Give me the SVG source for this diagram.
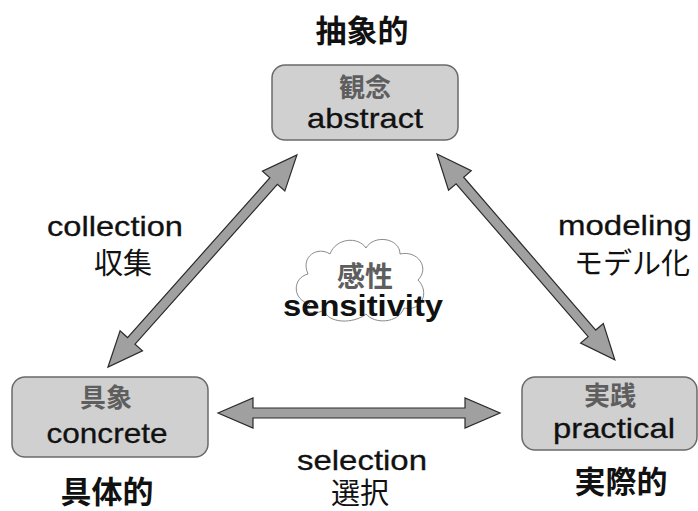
<svg xmlns="http://www.w3.org/2000/svg" width="698" height="511" viewBox="0 0 698 511">
<defs>
<style>
.box{fill:#d0d0d0;stroke:#6a6a6a;stroke-width:1.5}
.arr{fill:#a0a0a0;stroke:#2a2a2a;stroke-width:1.2;stroke-linejoin:miter}
.en{font-family:"Liberation Sans",Arial,sans-serif;font-size:28px;fill:#111;stroke:#111;stroke-width:0.3;text-anchor:middle}
.jp{font-family:"Noto Sans CJK JP","Noto Sans CJK SC",sans-serif;font-size:29px;fill:#111;text-anchor:middle}
.kb{font-family:"Noto Sans CJK JP","Noto Sans CJK SC",sans-serif;font-size:26px;fill:#5e5e5e;text-anchor:middle;font-weight:bold}
.big{font-family:"Noto Sans CJK JP","Noto Sans CJK SC",sans-serif;font-size:31px;font-weight:bold;fill:#111;text-anchor:middle}
</style>
</defs>
<rect width="698" height="511" fill="#fff"/>
<g id="connectors">
<polygon class="arr" transform="translate(218,413)" points="0,0 35,-15 35,-5 247,-5 247,-15 282,0 247,15 247,5 35,5 35,15"/>
<polygon class="arr" transform="translate(108,367) rotate(-48.3)" points="0,0 35,-15 35,-5 249,-5 249,-15 284,0 249,15 249,5 35,5 35,15"/>
<polygon class="arr" transform="translate(437,154) rotate(49.17)" points="0,0 35,-15 35,-5 237,-5 237,-15 272,0 237,15 237,5 35,5 35,15"/>
</g>
<g id="title-abstract"><text class="big" x="362" y="42">抽象的</text></g>
<g id="node-abstract">
<rect class="box" x="272" y="65" width="186" height="75" rx="13"/>
<text class="kb" x="365" y="97">観念</text>
<text class="en" x="365" y="128" textLength="116" lengthAdjust="spacingAndGlyphs">abstract</text>
</g>
<g id="node-concrete">
<rect class="box" x="12" y="377" width="196" height="80" rx="13"/>
<text class="kb" x="106" y="407">具象</text>
<text class="en" x="107" y="443" textLength="121" lengthAdjust="spacingAndGlyphs">concrete</text>
</g>
<g id="node-practical">
<rect class="box" x="522" y="377" width="175" height="73" rx="13"/>
<text class="kb" x="610" y="405">実践</text>
<text class="en" x="614" y="438" textLength="122" lengthAdjust="spacingAndGlyphs">practical</text>
</g>
<g id="node-sensitivity">
<path d="M310,304 C292,300 292,278 308,274 C300,256 318,246 330,254 C336,238 358,236 366,248 C374,234 400,238 400,254 C418,250 430,268 418,280 C430,292 422,312 404,308 C398,324 374,324 366,314 C354,324 328,324 324,310 C314,316 300,312 310,304 Z" fill="#fff" stroke="#8a8a8a" stroke-width="1"/>
<text class="kb" x="365" y="287" style="font-size:28px">感性</text>
<text x="363" y="316" text-anchor="middle" font-family="Liberation Sans, Arial, sans-serif" font-weight="bold" font-size="30" fill="#111" textLength="160" lengthAdjust="spacingAndGlyphs">sensitivity</text>
</g>
<g id="label-collection">
<text class="en" x="115" y="236" textLength="136" lengthAdjust="spacingAndGlyphs">collection</text>
<text class="jp" x="123" y="274">収集</text>
</g>
<g id="label-modeling">
<text class="en" x="625" y="235" textLength="134" lengthAdjust="spacingAndGlyphs">modeling</text>
<text class="jp" x="632" y="274">モデル化</text>
</g>
<g id="label-selection">
<text class="en" x="362" y="470" textLength="130" lengthAdjust="spacingAndGlyphs">selection</text>
<text class="jp" x="360" y="504">選択</text>
</g>
<g id="label-concrete"><text class="big" x="107" y="503">具体的</text></g>
<g id="label-practical"><text class="big" x="621" y="493">実際的</text></g>
</svg>
